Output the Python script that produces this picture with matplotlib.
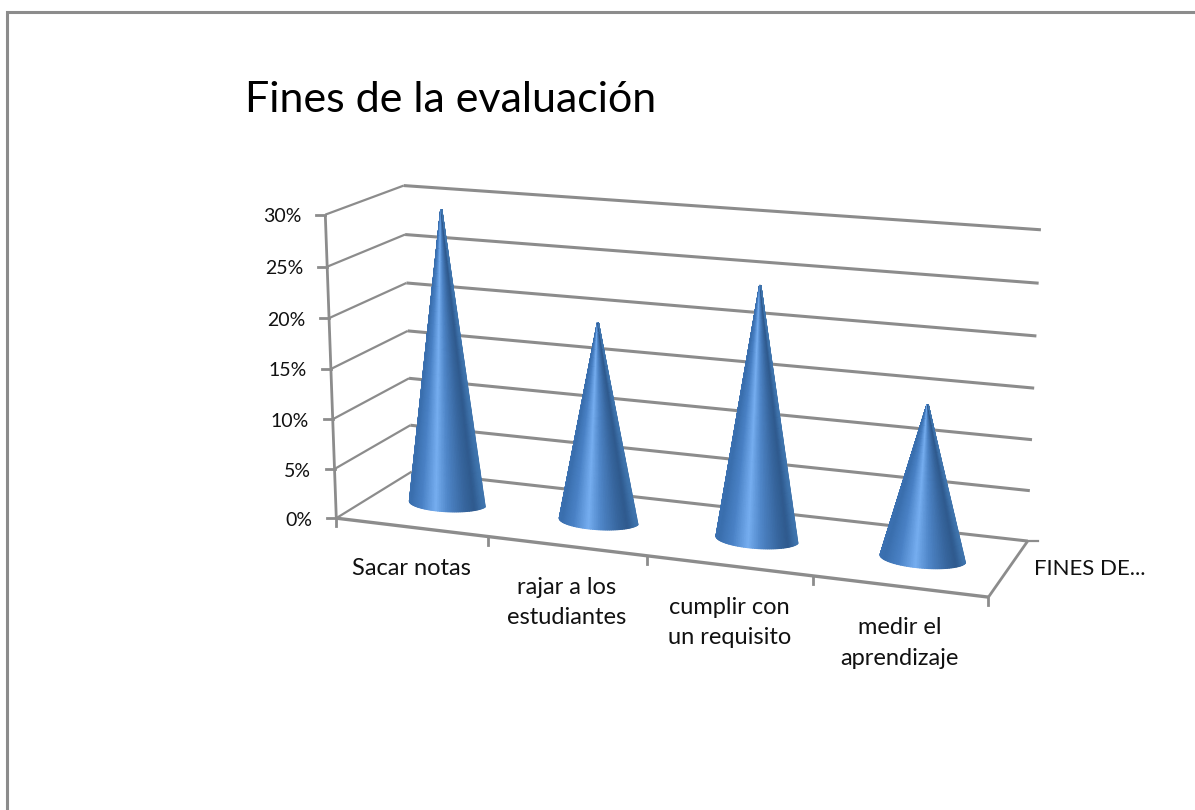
import numpy as np
import matplotlib
matplotlib.use("Agg")
import matplotlib.pyplot as plt
from matplotlib.colors import LinearSegmentedColormap

categories = ["Sacar notas", "rajar a los\nestudiantes", "cumplir con\nun requisito", "medir el\naprendizaje"]
values = [0.30, 0.20, 0.25, 0.15]
y_ticks = [0, 0.05, 0.10, 0.15, 0.20, 0.25, 0.30]
y_labels = ["0%", "5%", "10%", "15%", "20%", "25%", "30%"]
series_name = "FINES DE..."
title = "Fines de la evaluación"

plt.rcParams['font.family'] = ['Lato', 'DejaVu Sans']
GRAY = "#8c8c8c"

# box corners: (category, depth, value) -> pixel, camera is fitted from these
box3d = np.array([[0, 0, 0], [0, 0, .3], [0, 1, 0], [0, 1, .3], [4, 1, 0], [4, 1, .3], [4, 0, 0]], float)
box2d = np.array([[336, 518], [326, 214], [412, 472], [403, 186], [1028, 540], [1041, 230], [988, 598]], float)

A = []
for (u, v, w), (x, y) in zip(box3d, box2d):
    A.append([u, v, w, 1, 0, 0, 0, 0, -x*u, -x*v, -x*w, -x])
    A.append([0, 0, 0, 0, u, v, w, 1, -y*u, -y*v, -y*w, -y])
P = np.linalg.svd(np.array(A))[2][-1].reshape(3, 4)


def proj(u, v, w):
    u, v, w = np.broadcast_arrays(u, v, w)
    q = P @ np.array([u.ravel(), v.ravel(), w.ravel(), np.ones(u.size)])
    return (q[0]/q[2]).reshape(u.shape), (q[1]/q[2]).reshape(u.shape)


def line(a, b, lw=2.0, color=GRAY):
    xa, ya = proj(*a)
    xb, yb = proj(*b)
    ax.plot([xa, xb], [ya, yb], color=color, lw=lw, solid_capstyle='butt', zorder=1)


fig = plt.figure(figsize=(11.95, 8.1), dpi=100)
ax = fig.add_axes([0, 0, 1, 1])
ax.set_xlim(0, 1195)
ax.set_ylim(810, 0)
ax.axis('off')

# outer frame
ax.plot([7, 7, 1195], [810, 12, 12], color=GRAY, lw=2.2, solid_joinstyle='miter')

ax.text(245, 112, title, fontsize=31, color='black', ha='left', va='baseline')

# walls and floor
for val, lab in zip(y_ticks, y_labels):
    line((0, 1, val), (4, 1, val), lw=2.2)
    line((0, 0, val), (0, 1, val), lw=1.6)
    x0, y0 = proj(0, 0, val)
    ax.plot([x0 - 9, x0], [y0, y0], color=GRAY, lw=2.0, zorder=1)
    ax.text(x0 - 24, y0 + 2, lab, fontsize=14, ha='right', va='center', color='#111111')
line((0, 0, 0), (0, 0, .3), lw=2.0)
line((0, 0, 0), (4, 0, 0), lw=2.4)
line((4, 0, 0), (4, 1, 0), lw=2.0)

xb, yb = proj(4, 1, 0)
ax.plot([xb, xb + 10], [yb, yb], color=GRAY, lw=1.6, zorder=1)

# category ticks and labels
for i in range(5):
    x0, y0 = proj(i, 0, 0)
    ax.plot([x0, x0], [y0, y0 + 8], color=GRAY, lw=2.0, zorder=1)
for i, lab in enumerate(categories):
    x0, y0 = proj(i + .5, 0, 0)
    ax.text(x0, y0 + 31, lab, fontsize=17, ha='center', va='top', linespacing=1.55, color='#111111')

x0, y0 = proj(4, .5, 0)
ax.text(x0 + 25, y0 + 1, series_name, fontsize=16, ha='left', va='center', color='#111111')

# cones, front half of the surface shaded by position across the cone
shade = LinearSegmentedColormap.from_list("cone", [
    (0.00, "#3a70b2"), (0.10, "#3a6fae"), (0.30, "#4a82c6"), (0.50, "#76aef0"),
    (0.66, "#4f86c8"), (0.85, "#37669e"), (0.94, "#2f5a8e"), (1.00, "#3f74ad")])
ru, rv = 0.25, 0.17
for i, val in enumerate(values):
    uc = i + .5
    th = np.linspace(0, np.pi, 61)
    # stop just short of the tip, it fades out in the reference
    s = np.linspace(0, 0.985, 25)
    T, S = np.meshgrid(th, s)
    # base circle on the floor shrinking up to the tip
    U = uc - ru*np.cos(T)*(1 - S)
    V = .5 - rv*np.sin(T)*(1 - S)
    X, Y = proj(U, V, val*S)
    ax.pcolormesh(X, Y, (1 - np.cos(T))/2, cmap=shade, vmin=0, vmax=1, shading='gouraud', zorder=3)

fig.savefig("out.png", dpi=100)
